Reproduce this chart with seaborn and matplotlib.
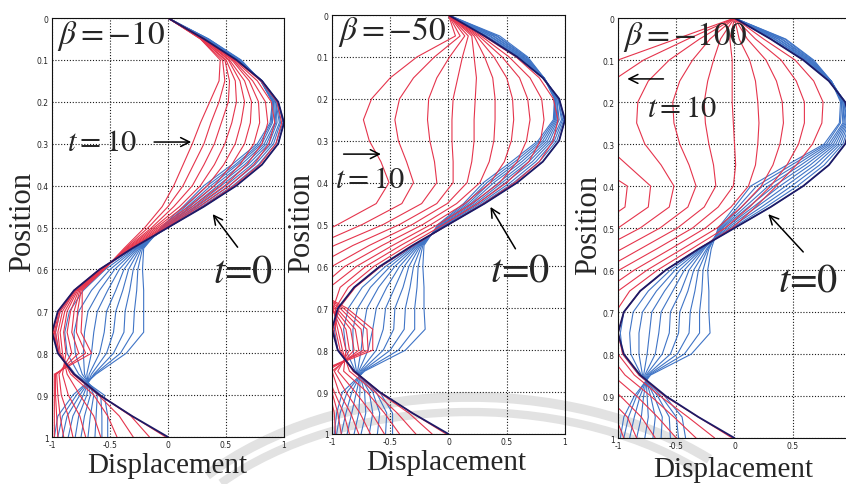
import matplotlib
matplotlib.use("Agg")
import matplotlib.pyplot as plt
from matplotlib.patches import Arc
import pandas as pd
import seaborn as sns

# Position along the member (rows of every table below)
position = [0.00, 0.05, 0.10, 0.15, 0.20, 0.25, 0.30, 0.35, 0.40, 0.45, 0.50,
            0.55, 0.60, 0.65, 0.70, 0.75, 0.80, 0.85, 0.90, 0.95, 1.00]

# Initial displacement profile (t = 0)
t0_profile = [0.00, 0.31, 0.59, 0.81, 0.95, 1.00, 0.95, 0.81, 0.59, 0.31, 0.00,
              -0.31, -0.59, -0.81, -0.95, -1.00, -0.95, -0.81, -0.59, -0.31, 0.00]

# Displacement snapshots: one row per position, one column per snapshot
beta10_blue = [
    [0.00, 0.00, 0.00, 0.00, 0.00, 0.00, 0.00, 0.00, 0.00, 0.00],
    [0.31, 0.31, 0.32, 0.32, 0.33, 0.33, 0.34, 0.34, 0.35, 0.35],
    [0.59, 0.59, 0.60, 0.60, 0.61, 0.61, 0.62, 0.62, 0.62, 0.63],
    [0.81, 0.81, 0.81, 0.81, 0.81, 0.81, 0.80, 0.80, 0.80, 0.80],
    [0.95, 0.95, 0.94, 0.93, 0.93, 0.92, 0.91, 0.91, 0.90, 0.90],
    [1.00, 0.99, 0.97, 0.96, 0.94, 0.93, 0.92, 0.90, 0.89, 0.88],
    [0.95, 0.93, 0.91, 0.89, 0.87, 0.85, 0.83, 0.81, 0.79, 0.77],
    [0.81, 0.78, 0.75, 0.72, 0.69, 0.66, 0.63, 0.60, 0.58, 0.55],
    [0.59, 0.56, 0.53, 0.50, 0.46, 0.43, 0.40, 0.37, 0.34, 0.31],
    [0.31, 0.29, 0.27, 0.25, 0.23, 0.21, 0.19, 0.17, 0.15, 0.13],
    [0.00, 0.00, -0.01, -0.01, -0.02, -0.03, -0.03, -0.04, -0.05, -0.06],
    [-0.30, -0.29, -0.28, -0.27, -0.26, -0.25, -0.24, -0.23, -0.22, -0.21],
    [-0.58, -0.54, -0.50, -0.46, -0.42, -0.38, -0.34, -0.30, -0.26, -0.22],
    [-0.80, -0.73, -0.66, -0.59, -0.52, -0.45, -0.39, -0.33, -0.27, -0.21],
    [-0.93, -0.85, -0.77, -0.69, -0.61, -0.53, -0.45, -0.37, -0.29, -0.21],
    [-0.97, -0.89, -0.81, -0.72, -0.64, -0.55, -0.47, -0.38, -0.30, -0.21],
    [-0.94, -0.87, -0.80, -0.73, -0.66, -0.59, -0.53, -0.47, -0.41, -0.36],
    [-0.80, -0.77, -0.74, -0.72, -0.70, -0.68, -0.66, -0.64, -0.63, -0.62],
    [-0.55, -0.58, -0.61, -0.64, -0.67, -0.70, -0.73, -0.76, -0.79, -0.82],
    [-0.52, -0.57, -0.62, -0.67, -0.72, -0.77, -0.82, -0.87, -0.91, -0.95],
    [-0.52, -0.57, -0.63, -0.69, -0.75, -0.80, -0.86, -0.91, -0.95, -0.98],
]
beta10_red = [
    [0.00, 0.00, 0.00, 0.00, 0.00, 0.00, 0.00, 0.00, 0.00, 0.00],
    [0.31, 0.31, 0.31, 0.30, 0.30, 0.30, 0.29, 0.29, 0.28, 0.28],
    [0.58, 0.57, 0.56, 0.55, 0.53, 0.52, 0.50, 0.49, 0.47, 0.45],
    [0.80, 0.77, 0.73, 0.70, 0.66, 0.62, 0.58, 0.53, 0.49, 0.44],
    [0.94, 0.89, 0.84, 0.78, 0.72, 0.66, 0.59, 0.52, 0.44, 0.36],
    [0.98, 0.92, 0.86, 0.79, 0.71, 0.63, 0.55, 0.46, 0.37, 0.28],
    [0.93, 0.87, 0.81, 0.74, 0.66, 0.58, 0.49, 0.40, 0.31, 0.21],
    [0.79, 0.74, 0.68, 0.62, 0.55, 0.48, 0.40, 0.31, 0.22, 0.13],
    [0.57, 0.53, 0.49, 0.45, 0.40, 0.34, 0.28, 0.21, 0.13, 0.05],
    [0.30, 0.27, 0.24, 0.21, 0.18, 0.14, 0.10, 0.05, 0.00, -0.05],
    [0.00, -0.02, -0.04, -0.06, -0.08, -0.10, -0.12, -0.14, -0.17, -0.20],
    [-0.31, -0.31, -0.32, -0.32, -0.33, -0.34, -0.35, -0.36, -0.37, -0.38],
    [-0.59, -0.59, -0.58, -0.58, -0.57, -0.57, -0.56, -0.56, -0.55, -0.55],
    [-0.81, -0.81, -0.80, -0.80, -0.79, -0.78, -0.77, -0.76, -0.75, -0.74],
    [-0.95, -0.94, -0.93, -0.91, -0.89, -0.87, -0.84, -0.81, -0.78, -0.74],
    [-0.99, -0.98, -0.97, -0.95, -0.93, -0.90, -0.87, -0.83, -0.79, -0.75],
    [-0.95, -0.95, -0.94, -0.93, -0.91, -0.88, -0.83, -0.77, -0.71, -0.66],
    [-0.81, -0.81, -0.82, -0.84, -0.87, -0.91, -0.94, -0.96, -0.97, -0.98],
    [-0.59, -0.59, -0.60, -0.64, -0.76, -0.86, -0.92, -0.95, -0.97, -0.98],
    [-0.31, -0.32, -0.42, -0.52, -0.64, -0.76, -0.86, -0.93, -0.96, -0.98],
    [-0.02, -0.16, -0.30, -0.44, -0.58, -0.71, -0.82, -0.90, -0.95, -0.98],
]
beta50_blue = [
    [0.00, 0.00, 0.00, 0.00, 0.00, 0.00, 0.00, 0.00, 0.00, 0.00],
    [0.31, 0.32, 0.33, 0.35, 0.36, 0.38, 0.39, 0.41, 0.42, 0.44],
    [0.59, 0.60, 0.61, 0.62, 0.63, 0.64, 0.65, 0.66, 0.67, 0.68],
    [0.81, 0.81, 0.82, 0.82, 0.82, 0.82, 0.82, 0.82, 0.82, 0.82],
    [0.95, 0.95, 0.94, 0.94, 0.93, 0.93, 0.92, 0.92, 0.91, 0.91],
    [1.00, 0.99, 0.98, 0.97, 0.95, 0.94, 0.93, 0.92, 0.91, 0.90],
    [0.95, 0.93, 0.91, 0.89, 0.87, 0.85, 0.83, 0.81, 0.79, 0.77],
    [0.81, 0.78, 0.75, 0.72, 0.69, 0.66, 0.63, 0.60, 0.57, 0.54],
    [0.59, 0.56, 0.53, 0.49, 0.46, 0.43, 0.39, 0.36, 0.33, 0.30],
    [0.31, 0.29, 0.27, 0.25, 0.23, 0.21, 0.19, 0.17, 0.15, 0.13],
    [0.00, -0.01, -0.02, -0.03, -0.04, -0.05, -0.06, -0.07, -0.08, -0.09],
    [-0.30, -0.29, -0.28, -0.27, -0.26, -0.25, -0.24, -0.23, -0.22, -0.21],
    [-0.58, -0.54, -0.50, -0.46, -0.42, -0.38, -0.34, -0.30, -0.26, -0.22],
    [-0.81, -0.74, -0.67, -0.60, -0.53, -0.46, -0.39, -0.33, -0.27, -0.21],
    [-0.94, -0.86, -0.78, -0.70, -0.62, -0.54, -0.46, -0.37, -0.29, -0.21],
    [-0.98, -0.90, -0.82, -0.73, -0.65, -0.56, -0.47, -0.38, -0.29, -0.20],
    [-0.95, -0.88, -0.82, -0.75, -0.69, -0.62, -0.56, -0.50, -0.43, -0.37],
    [-0.81, -0.80, -0.79, -0.78, -0.77, -0.76, -0.75, -0.74, -0.73, -0.72],
    [-0.59, -0.62, -0.65, -0.68, -0.72, -0.76, -0.79, -0.83, -0.87, -0.91],
    [-0.48, -0.53, -0.59, -0.65, -0.71, -0.77, -0.83, -0.88, -0.93, -0.96],
    [-0.48, -0.54, -0.61, -0.68, -0.75, -0.81, -0.87, -0.92, -0.96, -0.98],
]
beta50_red = [
    [0.00, 0.00, 0.00, 0.00, 0.00, 0.00, 0.00, 0.00, 0.00, 0.00],
    [0.30, 0.28, 0.26, 0.24, 0.22, 0.20, 0.17, 0.14, 0.10, 0.06],
    [0.58, 0.52, 0.46, 0.39, 0.31, 0.22, 0.12, 0.01, -0.12, -0.27],
    [0.78, 0.70, 0.61, 0.50, 0.38, 0.24, 0.08, -0.10, -0.30, -0.50],
    [0.90, 0.80, 0.68, 0.55, 0.40, 0.23, 0.04, -0.17, -0.42, -0.66],
    [0.94, 0.82, 0.70, 0.56, 0.40, 0.22, 0.03, -0.18, -0.46, -0.73],
    [0.90, 0.79, 0.67, 0.54, 0.39, 0.22, 0.03, -0.16, -0.43, -0.68],
    [0.78, 0.69, 0.59, 0.48, 0.35, 0.20, 0.04, -0.12, -0.36, -0.58],
    [0.57, 0.50, 0.44, 0.36, 0.27, 0.16, 0.04, -0.10, -0.30, -0.51],
    [0.30, 0.25, 0.20, 0.14, 0.07, -0.01, -0.10, -0.23, -0.40, -0.62],
    [0.00, -0.04, -0.09, -0.15, -0.22, -0.31, -0.42, -0.56, -0.74, -0.95],
    [-0.30, -0.35, -0.41, -0.48, -0.57, -0.68, -0.82, -0.98, -1.15, -1.30],
    [-0.58, -0.64, -0.71, -0.79, -0.89, -1.00, -1.15, -1.30, -1.45, -1.55],
    [-0.80, -0.86, -0.93, -1.02, -1.10, -1.15, -1.20, -1.20, -1.20, -1.20],
    [-0.94, -0.97, -0.99, -1.00, -1.00, -0.98, -0.96, -0.93, -0.90, -0.87],
    [-0.99, -0.97, -0.95, -0.92, -0.88, -0.84, -0.80, -0.75, -0.70, -0.65],
    [-0.95, -0.93, -0.91, -0.88, -0.85, -0.81, -0.77, -0.73, -0.69, -0.65],
    [-0.81, -0.82, -0.85, -0.90, -0.95, -0.98, -1.00, -1.05, -1.10, -1.10],
    [-0.59, -0.60, -0.63, -0.70, -0.80, -0.88, -0.94, -0.98, -1.00, -1.02],
    [-0.31, -0.34, -0.44, -0.55, -0.66, -0.76, -0.84, -0.90, -0.95, -0.98],
    [-0.02, -0.14, -0.28, -0.42, -0.55, -0.67, -0.77, -0.85, -0.92, -0.97],
]
beta100_blue = [
    [0.00, 0.00, 0.00, 0.00, 0.00, 0.00, 0.00, 0.00, 0.00, 0.00],
    [0.31, 0.32, 0.34, 0.35, 0.37, 0.38, 0.40, 0.41, 0.43, 0.44],
    [0.59, 0.60, 0.61, 0.62, 0.63, 0.64, 0.65, 0.66, 0.67, 0.68],
    [0.81, 0.82, 0.82, 0.83, 0.83, 0.83, 0.83, 0.83, 0.83, 0.83],
    [0.95, 0.95, 0.95, 0.94, 0.94, 0.93, 0.93, 0.92, 0.92, 0.91],
    [1.00, 0.99, 0.98, 0.97, 0.96, 0.95, 0.94, 0.93, 0.91, 0.90],
    [0.95, 0.93, 0.91, 0.89, 0.87, 0.85, 0.83, 0.81, 0.79, 0.77],
    [0.81, 0.77, 0.73, 0.69, 0.65, 0.61, 0.57, 0.53, 0.49, 0.45],
    [0.59, 0.54, 0.49, 0.44, 0.39, 0.34, 0.29, 0.24, 0.19, 0.14],
    [0.31, 0.27, 0.23, 0.19, 0.16, 0.12, 0.09, 0.06, 0.03, 0.00],
    [0.00, -0.02, -0.04, -0.06, -0.08, -0.10, -0.11, -0.12, -0.13, -0.14],
    [-0.31, -0.30, -0.29, -0.28, -0.27, -0.26, -0.24, -0.23, -0.22, -0.20],
    [-0.59, -0.55, -0.51, -0.47, -0.43, -0.39, -0.35, -0.31, -0.27, -0.23],
    [-0.81, -0.74, -0.67, -0.60, -0.53, -0.46, -0.40, -0.34, -0.28, -0.22],
    [-0.95, -0.87, -0.79, -0.71, -0.63, -0.55, -0.47, -0.38, -0.30, -0.22],
    [-0.98, -0.90, -0.82, -0.73, -0.65, -0.56, -0.48, -0.39, -0.30, -0.21],
    [-0.96, -0.89, -0.82, -0.75, -0.68, -0.62, -0.55, -0.49, -0.43, -0.37],
    [-0.82, -0.80, -0.79, -0.78, -0.77, -0.76, -0.75, -0.74, -0.73, -0.72],
    [-0.60, -0.63, -0.66, -0.69, -0.72, -0.75, -0.78, -0.81, -0.84, -0.86],
    [-0.45, -0.50, -0.56, -0.62, -0.68, -0.74, -0.80, -0.86, -0.91, -0.95],
    [-0.42, -0.48, -0.55, -0.63, -0.70, -0.77, -0.84, -0.90, -0.95, -0.98],
]
beta100_red = [
    [0.00, 0.00, 0.00, 0.00, 0.00, 0.00, 0.00, 0.00, 0.00, 0.00],
    [0.25, 0.18, 0.11, 0.04, -0.04, -0.12, -0.21, -0.30, -0.40, -0.50],
    [0.52, 0.40, 0.27, 0.13, -0.02, -0.18, -0.36, -0.56, -0.78, -1.00],
    [0.68, 0.53, 0.36, 0.18, -0.02, -0.23, -0.47, -0.74, -1.05, -1.35],
    [0.76, 0.60, 0.41, 0.20, -0.02, -0.26, -0.53, -0.83, -1.20, -1.55],
    [0.75, 0.60, 0.42, 0.21, -0.01, -0.25, -0.52, -0.84, -1.22, -1.60],
    [0.67, 0.55, 0.39, 0.20, 0.00, -0.22, -0.47, -0.77, -1.12, -1.50],
    [0.53, 0.45, 0.33, 0.18, 0.01, -0.18, -0.39, -0.63, -0.92, -1.20],
    [0.36, 0.31, 0.23, 0.12, -0.01, -0.16, -0.33, -0.52, -0.72, -0.92],
    [0.18, 0.13, 0.06, -0.03, -0.14, -0.26, -0.40, -0.56, -0.74, -0.94],
    [-0.02, -0.08, -0.15, -0.25, -0.36, -0.49, -0.64, -0.81, -1.00, -1.20],
    [-0.31, -0.37, -0.45, -0.55, -0.67, -0.81, -0.97, -1.15, -1.35, -1.50],
    [-0.59, -0.66, -0.75, -0.86, -0.99, -1.13, -1.30, -1.45, -1.60, -1.70],
    [-0.81, -0.90, -1.00, -1.12, -1.25, -1.40, -1.55, -1.65, -1.75, -1.80],
    [-0.95, -1.02, -1.12, -1.25, -1.40, -1.55, -1.65, -1.75, -1.80, -1.85],
    [-1.00, -1.05, -1.15, -1.30, -1.45, -1.60, -1.70, -1.78, -1.82, -1.85],
    [-0.96, -1.00, -1.08, -1.20, -1.35, -1.50, -1.60, -1.68, -1.72, -1.75],
    [-0.82, -0.86, -0.94, -1.05, -1.18, -1.30, -1.40, -1.45, -1.50, -1.52],
    [-0.60, -0.64, -0.72, -0.84, -0.98, -1.10, -1.20, -1.25, -1.28, -1.30],
    [-0.31, -0.40, -0.52, -0.66, -0.80, -0.92, -1.02, -1.08, -1.12, -1.14],
    [-0.02, -0.17, -0.33, -0.50, -0.68, -0.84, -0.95, -1.02, -1.06, -1.08],
]

beta_labels = [r"$\beta=-10$", r"$\beta=-50$", r"$\beta=-100$"]
x_ticks = [-1, -0.5, 0, 0.5, 1]
x_tick_labels = ["-1", "-0.5", "0", "0.5", "1"]
y_ticks = [0, 0.1, 0.2, 0.3, 0.4, 0.5, 0.6, 0.7, 0.8, 0.9, 1.0]
y_tick_labels = ["0", "0.1", "0.2", "0.3", "0.4", "0.5", "0.6", "0.7", "0.8", "0.9", "1"]

panels = [(beta10_blue, beta10_red), (beta50_blue, beta50_red), (beta100_blue, beta100_red)]

# Axes boxes in figure fraction and annotation placement in data units
boxes = [(0.0615, 0.0969, 0.2742, 0.8639),
         (0.3924, 0.1031, 0.2754, 0.8639),
         (0.7305, 0.0948, 0.2754, 0.8660)]
layout = [
    dict(beta=(-0.96, 0.040), t10=(-0.87, 0.294), t10_arrow=((-0.12, 0.296), (0.20, 0.296)),
         t0=(0.385, 0.606), t0_arrow=((0.60, 0.547), (0.385, 0.468)),
         ylab=(-0.129, 0.515), xlab=(0.496, -0.068)),
    dict(beta=(-0.95, 0.038), t10=(-0.97, 0.391), t10_arrow=((-0.90, 0.332), (-0.58, 0.332)),
         t0=(0.36, 0.611), t0_arrow=((0.575, 0.558), (0.36, 0.458)),
         ylab=(-0.132, 0.506), xlab=(0.489, -0.068)),
    dict(beta=(-0.955, 0.043), t10=(-0.75, 0.212), t10_arrow=((-0.61, 0.145), (-0.92, 0.145)),
         t0=(0.37, 0.626), t0_arrow=((0.59, 0.557), (0.29, 0.467)),
         ylab=(-0.128, 0.510), xlab=(0.494, -0.074)),
]

RED = "#e5344c"
BLUE = "#3f74c6"
NAVY = "#1d1a66"

sns.set_style("white")
plt.rcParams["font.family"] = ["DejaVu Sans"]
plt.rcParams["mathtext.fontset"] = "stix"
plt.rcParams["axes.unicode_minus"] = False

fig = plt.figure(figsize=(8.46, 4.85), dpi=100)
fig.patch.set_facecolor("white")

# faint circular watermark bands behind the panels
for w, h, lw in [(7.0, 4.6, 7), (6.7, 4.3, 6)]:
    fig.add_artist(Arc((4.70, -1.43), w, h, theta1=35, theta2=150,
                       transform=fig.dpi_scale_trans, color="#e2e2e2",
                       lw=lw, zorder=-5))


def long_table(table, family):
    rows = []
    for pos, values in zip(position, table):
        for k, disp in enumerate(values):
            rows.append({"family": family, "snapshot": f"{family}{k}",
                         "position": pos, "displacement": disp})
    return pd.DataFrame(rows)


t0_df = pd.DataFrame({"position": position, "displacement": t0_profile})

for i, (blue, red) in enumerate(panels):
    ax = fig.add_axes(boxes[i])
    ax.patch.set_alpha(0)
    spec = layout[i]

    for table, family, colour in [(blue, "blue", BLUE), (red, "red", RED)]:
        sns.lineplot(data=long_table(table, family), x="displacement", y="position",
                     units="snapshot", estimator=None, sort=False, color=colour,
                     lw=0.8, legend=False, ax=ax)
    sns.lineplot(data=t0_df, x="displacement", y="position", sort=False,
                 estimator=None, color=NAVY, lw=1.3, legend=False, ax=ax)

    ax.set_xlim(-1, 1)
    ax.set_ylim(1, 0)
    ax.set_xticks(x_ticks)
    # the right end of the last panel runs past the page edge
    ax.set_xticklabels(x_tick_labels if i < 2 else x_tick_labels[:-1] + [""])
    ax.set_yticks(y_ticks)
    ax.set_yticklabels(y_tick_labels)
    ax.tick_params(labelsize=5.5, length=2, width=0.6, direction="in", pad=2.5,
                   colors="#222222")
    for lab in ax.get_xticklabels() + ax.get_yticklabels():
        lab.set_family(["Liberation Sans Narrow", "DejaVu Sans"])
    ax.grid(True, color="#1a1a1a", linestyle=(0, (1.0, 1.6)), linewidth=0.8)
    ax.set_axisbelow(True)
    for s in ax.spines.values():
        s.set_color("#111111")
        s.set_linewidth(0.8)

    ax.set_xlabel("Displacement", fontsize=21, family="Liberation Serif", va="center")
    ax.set_ylabel("Position", fontsize=22, family="Liberation Serif", va="center")
    ax.xaxis.set_label_coords(*spec["xlab"])
    ax.yaxis.set_label_coords(*spec["ylab"])

    ax.text(*spec["beta"], beta_labels[i], fontsize=24, ha="left", va="center")
    ax.text(*spec["t10"], r"$t=10$", fontsize=22, ha="left", va="center")
    ax.text(*spec["t0"], r"$t$=0", fontsize=29, family="STIXGeneral",
            ha="left", va="center")
    for key in ("t10_arrow", "t0_arrow"):
        tail, head = spec[key]
        ax.annotate("", xy=head, xytext=tail,
                    arrowprops=dict(arrowstyle="->", lw=1.1, color="black",
                                    mutation_scale=16, shrinkA=0, shrinkB=0))

fig.savefig("out.png", dpi=100)
